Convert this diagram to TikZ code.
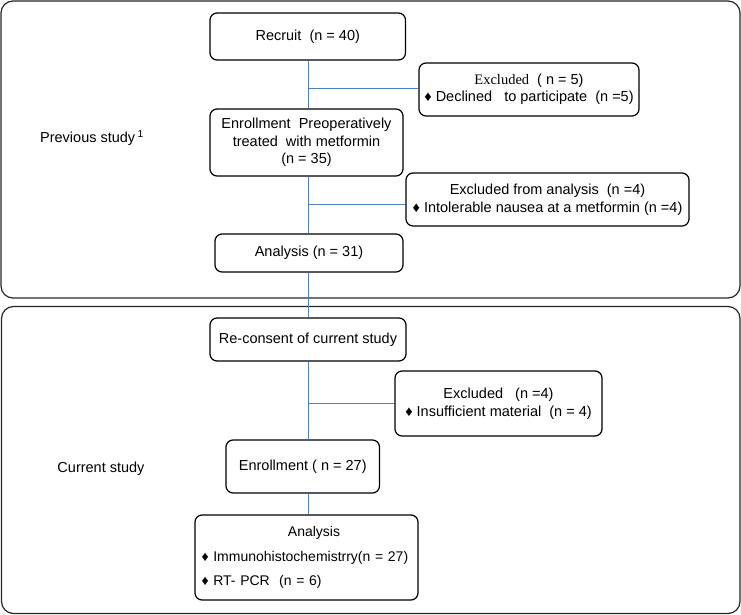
\documentclass[tikz,border=0pt]{standalone}
\usepackage{fontspec}
\setmainfont{Liberation Sans}
\newfontfamily\serifex{Liberation Serif}
\newcommand\myfs{\fontsize{14.5}{17.5}\selectfont}
\newcommand\mysmfs{\fontsize{14}{17.5}\selectfont}
\definecolor{linkblue}{HTML}{4F81BD}
\begin{document}
\begin{tikzpicture}[x=1pt,y=-1pt,
  box/.style={draw=black, line width=1.2pt, rounded corners=7pt, fill=white, inner sep=0pt, align=center, font=\myfs},
  panel/.style={draw=black!85, line width=1.2pt, rounded corners=12pt},
  conn/.style={draw=linkblue, line width=0.9pt},
  lbl/.style={font=\myfs, inner sep=0pt}]
\useasboundingbox (0,0) rectangle (741,615);
\draw[panel] (1,1) rectangle (740,298);
\draw[panel] (1.5,306.5) rectangle (740,613.5);

\node[box, minimum width=195.5pt, minimum height=47pt] (recruit) at (307.75,36.5) {Recruit\ \ (n = 40)};
\node[box, minimum width=220pt, minimum height=53pt] (exc1) at (529,89.5) {{\serifex Excluded}\ \ ( n = 5)\\ ♦ Declined\ \ \ to participate\ \ (n =5)};
\node[box, minimum width=193pt, minimum height=67pt] (enroll) at (306.5,142.5) {Enrollment\ \ Preoperatively\\ treated\ \ with metformin\\ (n = 35)};
\node[box, minimum width=283pt, minimum height=53pt] (exc2) at (547.5,199.5) {Excluded\ from analysis\ \ (n =4)\\ ♦ Intolerable nausea at a metformin\ (n =4)};
\node[box, minimum width=188pt, minimum height=38pt] (anal) at (309,253) {Analysis (n = 31)};
\node[box, minimum width=196pt, minimum height=43pt] (recon) at (308,339.5) {Re-consent of current study};
\node[box, minimum width=207pt, minimum height=65pt] (exc3) at (498.5,403.5) {Excluded\ \ \ (n =4)\\ ♦ Insufficient material\ \ (n = 4)};
\node[box, minimum width=153.5pt, minimum height=53pt] (enroll2) at (302.75,466.5) {Enrollment\ ( n = 27)};
\node[box, minimum width=223pt, minimum height=85pt, text width=210pt, align=left, font=\mysmfs] (anal2) at (306.5,557.5) {\makebox[210pt]{\hspace{15pt}Analysis}\\[7pt] ♦ Immunohistochemistrry(n = 27)\\[7pt] ♦ RT- PCR\ \ (n = 6)};

\node[lbl] (prev) at (92,138) {Previous study\,\textsuperscript{1}};
\node[lbl] (curr) at (101,469) {Current study};

\coordinate (sp) at (308,0);
\draw[conn] (recruit.south -| sp) -- (enroll.north -| sp);
\draw[conn] (enroll.south -| sp) -- (anal.north -| sp);
\draw[conn] (anal.south -| sp) -- (recon.north -| sp);
\draw[conn] (recon.south -| sp) -- (enroll2.north -| sp);
\draw[conn] (enroll2.south -| sp) -- (anal2.north -| sp);
\coordinate (j1) at (308,88);
\coordinate (j2) at (308,204);
\coordinate (j3) at (308,403);
\draw[conn] (j1) -- (exc1.west |- j1);
\draw[conn] (j2) -- (exc2.west |- j2);
\draw[conn] (j3) -- (exc3.west |- j3);
\end{tikzpicture}
\end{document}
